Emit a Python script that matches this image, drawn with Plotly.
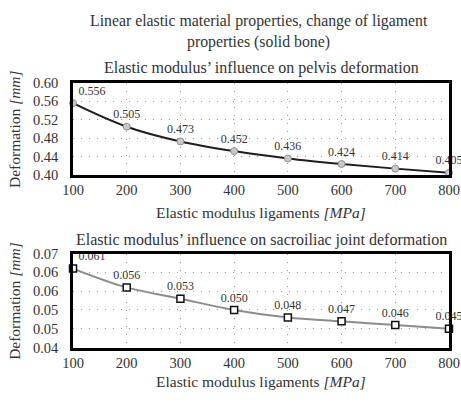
import plotly.graph_objects as go

# ---- data ----
modulus = [100, 200, 300, 400, 500, 600, 700, 800]
pelvis_def = [0.556, 0.505, 0.473, 0.452, 0.436, 0.424, 0.414, 0.405]
sij_def = [0.061, 0.056, 0.053, 0.050, 0.048, 0.047, 0.046, 0.045]
pelvis_labels = ["0.556", "0.505", "0.473", "0.452", "0.436", "0.424", "0.414", "0.405"]
sij_labels = ["0.061", "0.056", "0.053", "0.050", "0.048", "0.047", "0.046", "0.045"]
x_ticks = [100, 200, 300, 400, 500, 600, 700, 800]
pelvis_yticks = [0.40, 0.44, 0.48, 0.52, 0.56, 0.60]
pelvis_yticktext = ["0.40", "0.44", "0.48", "0.52", "0.56", "0.60"]
sij_yticks = [0.040, 0.045, 0.050, 0.055, 0.060, 0.065]
sij_yticktext = ["0.04", "0.05", "0.05", "0.06", "0.06", "0.07"]

main_title_1 = "Linear elastic material properties, change of ligament"
main_title_2 = "properties (solid bone)"
sub_title_1 = "Elastic modulus’ influence on pelvis deformation"
sub_title_2 = "Elastic modulus’ influence on sacroiliac joint deformation"
x_title = "Elastic modulus ligaments <i>[MPa]</i>"
y_title = "Deformation <i>[mm]</i>"

FONT = "Liberation Serif"
TXT = "#333333"

fig = go.Figure()

label_pos = ["top right"] + ["top center"] * (len(modulus) - 1)

fig.add_trace(go.Scatter(
    x=modulus, y=pelvis_def, xaxis="x", yaxis="y",
    mode="lines+markers+text",
    line=dict(color="#1e1e1e", width=2, shape="spline"),
    marker=dict(symbol="circle", size=7, color="#c8c8c8",
                line=dict(color="#909090", width=1)),
    text=pelvis_labels, textposition=label_pos,
    textfont=dict(family=FONT, size=12, color=TXT),
    cliponaxis=False, showlegend=False,
))

fig.add_trace(go.Scatter(
    x=modulus, y=sij_def, xaxis="x2", yaxis="y2",
    mode="lines+markers+text",
    line=dict(color="#8c8c8c", width=2, shape="spline"),
    marker=dict(symbol="square", size=7, color="white",
                line=dict(color="#111111", width=1.5)),
    text=sij_labels, textposition=label_pos,
    textfont=dict(family=FONT, size=12, color=TXT),
    cliponaxis=False, showlegend=False,
))

axis_common = dict(
    showline=True, mirror=True, linecolor="black", linewidth=2.5,
    showgrid=True, gridcolor="#9a9a9a", gridwidth=1, griddash="1px,7px",
    zeroline=False, ticks="",
    tickfont=dict(family=FONT, size=14.5, color=TXT),
)

fig.update_layout(
    width=461, height=402,
    margin=dict(l=73, r=12, t=0, b=0),
    paper_bgcolor="white", plot_bgcolor="white",
    font=dict(family=FONT, color=TXT),
    xaxis=dict(domain=[0, 1], anchor="y", range=[100, 800],
               tickvals=x_ticks, **axis_common),
    yaxis=dict(domain=[1 - 174 / 402, 1 - 78 / 402], anchor="x",
               range=[0.40, 0.60], tickvals=pelvis_yticks,
               ticktext=pelvis_yticktext, ticklabelstandoff=9, **axis_common),
    xaxis2=dict(domain=[0, 1], anchor="y2", range=[100, 800],
                tickvals=x_ticks, **axis_common),
    yaxis2=dict(domain=[1 - 353.7 / 402, 1 - 255.7 / 402], anchor="x2",
                range=[0.040, 0.065], tickvals=sij_yticks,
                ticktext=sij_yticktext, ticklabelstandoff=9, **axis_common),
)

def ann(text, x, ypx, size=15.5, angle=0):
    fig.add_annotation(text=text, xref="paper", yref="paper",
                       x=x, y=1 - ypx / 402, xanchor="center", yanchor="middle",
                       showarrow=False, textangle=angle,
                       font=dict(family=FONT, size=size, color=TXT))

ann(main_title_1, (259 - 73) / 376, 14, size=15.8)
ann(main_title_2, (258 - 73) / 376, 35, size=15.8)
ann(sub_title_1, 0.5, 62, size=16)
ann(sub_title_2, 0.5, 242, size=16)
ann(x_title, 0.5, 213)
ann(x_title, 0.5, 389)
ann(y_title, (15 - 73) / 376, 126, angle=-90)
ann(y_title, (15 - 73) / 376, 305, angle=-90)

fig.write_html("out.html")
